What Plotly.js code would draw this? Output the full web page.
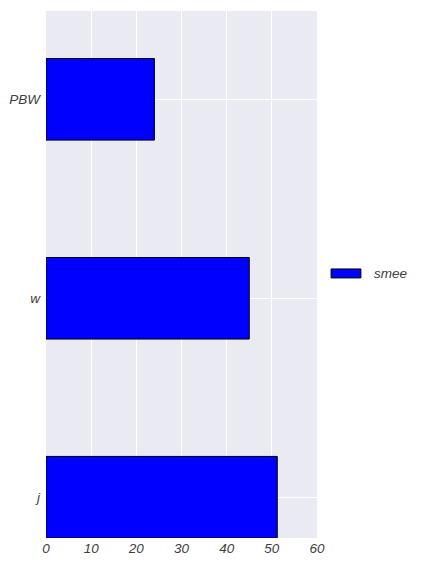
<!DOCTYPE html>
<html>
<head>
<meta charset="utf-8">
<script src="https://cdn.plot.ly/plotly-3.0.1.min.js"></script>
<style>html,body{margin:0;padding:0;background:#fff;}#chart{width:426px;height:568px;}</style>
</head>
<body>
<div id="chart"></div>
<script>
const categories = ["j", "w", "PBW"];
const values = [51.2, 45, 24];
const seriesName = "smee";
const xTicks = [0, 10, 20, 30, 40, 50, 60];

const FONT = "Liberation Sans, Arial, sans-serif";
const TEXT_COLOR = "#404040";

const trace = {
  type: "bar",
  orientation: "h",
  x: values,
  y: [0, 1, 2],
  width: 0.41,
  name: seriesName,
  showlegend: false,
  marker: {color: "#0000ff", line: {color: "#000000", width: 1}},
  hoverinfo: "x+y"
};

const layout = {
  width: 426,
  height: 568,
  margin: {l: 46, r: 109, t: 11, b: 30, pad: 0},
  paper_bgcolor: "#ffffff",
  plot_bgcolor: "#eaeaf2",
  font: {family: FONT, size: 13.5, color: TEXT_COLOR},
  bargap: 0,
  xaxis: {
    range: [0, 60],
    tickvals: xTicks,
    ticktext: xTicks.map(v => "<i>" + v + "</i>"),
    showgrid: true,
    gridcolor: "#ffffff",
    gridwidth: 1,
    zeroline: false,
    showline: false,
    ticks: "",
    tickfont: {family: FONT, size: 13.5, color: TEXT_COLOR},
    fixedrange: true
  },
  yaxis: {
    range: [-0.205, 2.444],
    tickvals: [0, 1, 2],
    ticktext: categories.map(c => "<i>" + c + "</i>"),
    showgrid: true,
    gridcolor: "#ffffff",
    gridwidth: 1,
    zeroline: false,
    showline: false,
    ticks: "",
    ticklabelstandoff: 5,
    tickfont: {family: FONT, size: 13.5, color: TEXT_COLOR},
    fixedrange: true
  },
  shapes: [{
    type: "rect", xref: "paper", yref: "paper",
    x0: 1.052, x1: 1.162, y0: 0.4935, y1: 0.5105,
    fillcolor: "#0000ff", line: {color: "#000000", width: 1}
  }],
  annotations: [{
    xref: "paper", yref: "paper", x: 1.203, y: 0.502,
    xanchor: "left", yanchor: "middle", showarrow: false,
    text: "<i>" + seriesName + "</i>",
    font: {family: FONT, size: 13.5, color: TEXT_COLOR}
  }]
};

Plotly.newPlot("chart", [trace], layout, {displayModeBar: false, staticPlot: true});
</script>
</body>
</html>
